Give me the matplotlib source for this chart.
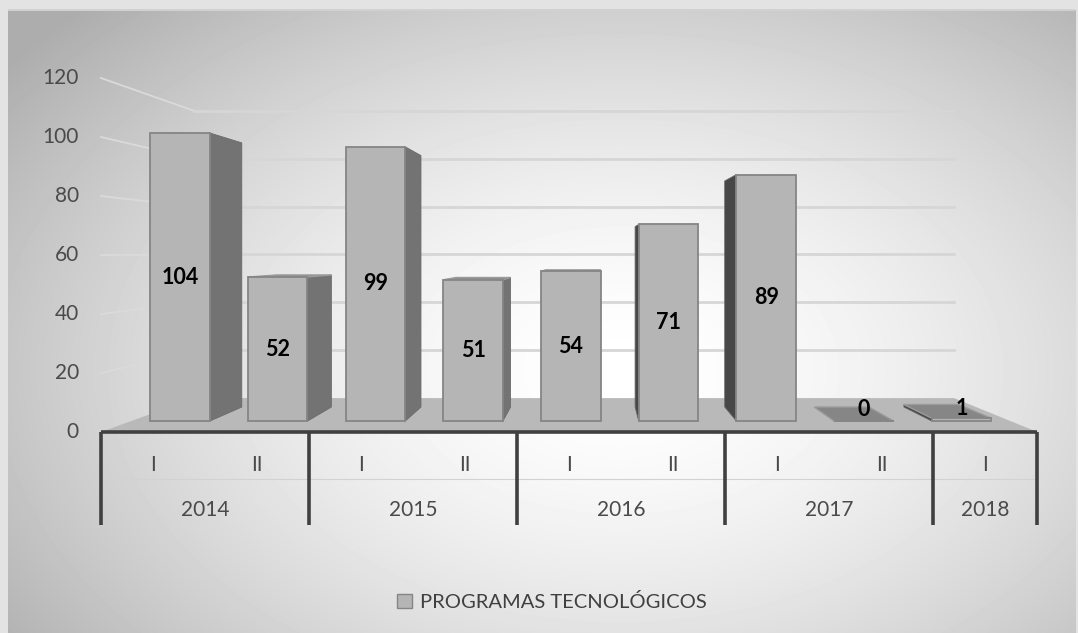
# Programas tecnológicos por periodo — pseudo-3D column chart

import matplotlib.pyplot as plt
import numpy as np
from matplotlib.patches import Polygon, Patch

plt.rcParams['font.family'] = ['Lato', 'DejaVu Sans']

# Data
periods = ["I", "II", "I", "II", "I", "II", "I", "II", "I"]
years = ["2014", "2015", "2016", "2017", "2018"]
year_span = [2, 2, 2, 2, 1]
values = [104, 52, 99, 51, 54, 71, 89, 0, 1]
y_ticks = [0, 20, 40, 60, 80, 100, 120]
series_name = "PROGRAMAS TECNOLÓGICOS"

# Perspective: vanishing point and depth scales (bar front plane = 1)
XV, YV = 4.25, 61.0
K_FLOOR_FRONT, K_FLOOR_BACK = 1.065, 0.864
K_BAR_BACK = 0.917
BAR_W = 0.61


def proj(x, y, k):
    return XV + (x - XV) * k, YV + (y - YV) * k


W, H = 1078, 633
fig = plt.figure(figsize=(W / 100, H / 100), dpi=100)

# Background: light frame + radial gradient
yy, xx = np.mgrid[0:H, 0:W]
r = np.sqrt(((xx - 620) / 640.0) ** 2 + ((yy - 370) / 420.0) ** 2)
shade = 1.0 - 0.24 * np.clip(r, 0, 1.2) ** 1.6
shade[(xx < 8) | (yy < 10) | (xx > W - 3)] = 0.89
shade[9:11, 8:W - 3] = 0.82
bg = fig.add_axes([0, 0, 1, 1])
bg.imshow(shade, cmap='gray', vmin=0, vmax=1, aspect='auto')
bg.axis('off')

ax = fig.add_axes([0, 0, 1, 1])
ax.patch.set_alpha(0)
ax.axis('off')
ax.set_xlim(-1.842, 9.191)
ax.set_ylim(-76.5, 152.0)

n = len(values)
x_lo, x_hi = -0.5, n - 0.5

# Left wall and back wall gridlines
for v in y_ticks[1:]:
    a = proj(x_lo, v, K_FLOOR_FRONT)
    b = proj(x_lo, v, K_FLOOR_BACK)
    c = proj(x_hi, v, K_FLOOR_BACK)
    ax.plot([a[0], b[0]], [a[1], b[1]], color='#dadada', lw=1.3, zorder=1)
    ax.plot([b[0], c[0]], [b[1], c[1]], color='#d6d6d6', lw=2.0, zorder=1)

# Y tick labels (front plane)
for v in y_ticks:
    px, py = proj(x_lo, v, K_FLOOR_FRONT)
    ax.text(px - 0.225, py, str(v), ha='right', va='center',
            fontsize=15, color='#4a4a4a')

# Floor
floor = [proj(x_lo, 0, K_FLOOR_FRONT), proj(x_hi, 0, K_FLOOR_FRONT),
         proj(x_hi, 0, K_FLOOR_BACK), proj(x_lo, 0, K_FLOOR_BACK)]
ax.add_patch(Polygon(floor, closed=True, facecolor='#b9b9b9', edgecolor='none', zorder=2))

# Bars: side/top faces from the projection, front faces from ax.bar
xs = np.arange(n)
for i, v in zip(xs, values):
    x0, x1 = i - BAR_W / 2, i + BAR_W / 2
    if v > 0.5:
        if i < XV:
            xe, col = x1, '#737373'
        else:
            xe, col = x0, '#474747'
        side = [(xe, 0), (xe, v), proj(xe, v, K_BAR_BACK), proj(xe, 0, K_BAR_BACK)]
        ax.add_patch(Polygon(side, closed=True, facecolor=col, edgecolor='#6a6a6a',
                             lw=0.6, zorder=3))
    if v < YV:
        top = [(x0, v), (x1, v), proj(x1, v, K_BAR_BACK), proj(x0, v, K_BAR_BACK)]
        tc = '#868686' if v < 5 else '#8c8c8c'
        ax.add_patch(Polygon(top, closed=True, facecolor=tc, edgecolor='#9a9a9a',
                             lw=1.0, zorder=3))

ax.bar(xs, values, width=BAR_W, color='#b5b5b5', edgecolor='#858585', linewidth=1.3, zorder=4)

# Value labels
for i, v in zip(xs, values):
    if v >= 5:
        lx, ly = i, v / 2
    else:
        lx, ly = proj(i, v / 2, (1 + K_BAR_BACK) / 2)
        lx, ly = i, ly + 1.5
    ax.text(lx, ly, str(v), ha='center', va='center', fontsize=15.5,
            fontweight='bold', color='black', zorder=5)

# Category axis (front edge of floor)
fx0, fy = proj(x_lo, 0, K_FLOOR_FRONT)
fx1, _ = proj(x_hi, 0, K_FLOOR_FRONT)
ax.plot([fx0, fx1], [fy, fy], color='#404040', lw=2.6, zorder=5, solid_capstyle='butt')

y_div_bottom = -37.5
y_row_sep = -20.9
y_period = -15.9
y_year = -32.1

ax.plot([fx0, fx1], [y_row_sep, y_row_sep], color='#d2d2d2', lw=0.8, zorder=1)

bounds = np.concatenate([[0], np.cumsum(year_span)]) - 0.5
for b in bounds:
    bx, _ = proj(b, 0, K_FLOOR_FRONT)
    ax.plot([bx, bx], [fy, y_div_bottom], color='#404040', lw=2.6, zorder=5,
            solid_capstyle='butt')

for i, p in zip(xs, periods):
    px, _ = proj(i, 0, K_FLOOR_FRONT)
    ax.text(px, y_period, p, ha='center', va='center', fontsize=15, color='#4a4a4a')

for k, yr in enumerate(years):
    mid = (bounds[k] + bounds[k + 1]) / 2
    px, _ = proj(mid, 0, K_FLOOR_FRONT)
    ax.text(px, y_year, yr, ha='center', va='center', fontsize=15, color='#4a4a4a')

# Legend
fig.legend(handles=[Patch(facecolor='#b5b5b5', edgecolor='#858585', label=series_name)],
           loc='center', bbox_to_anchor=(0.512, 0.049), frameon=False,
           fontsize=14.5, labelcolor='#404040', handlelength=0.75, handleheight=0.75,
           handletextpad=0.4)

fig.savefig('out.png', dpi=100)
